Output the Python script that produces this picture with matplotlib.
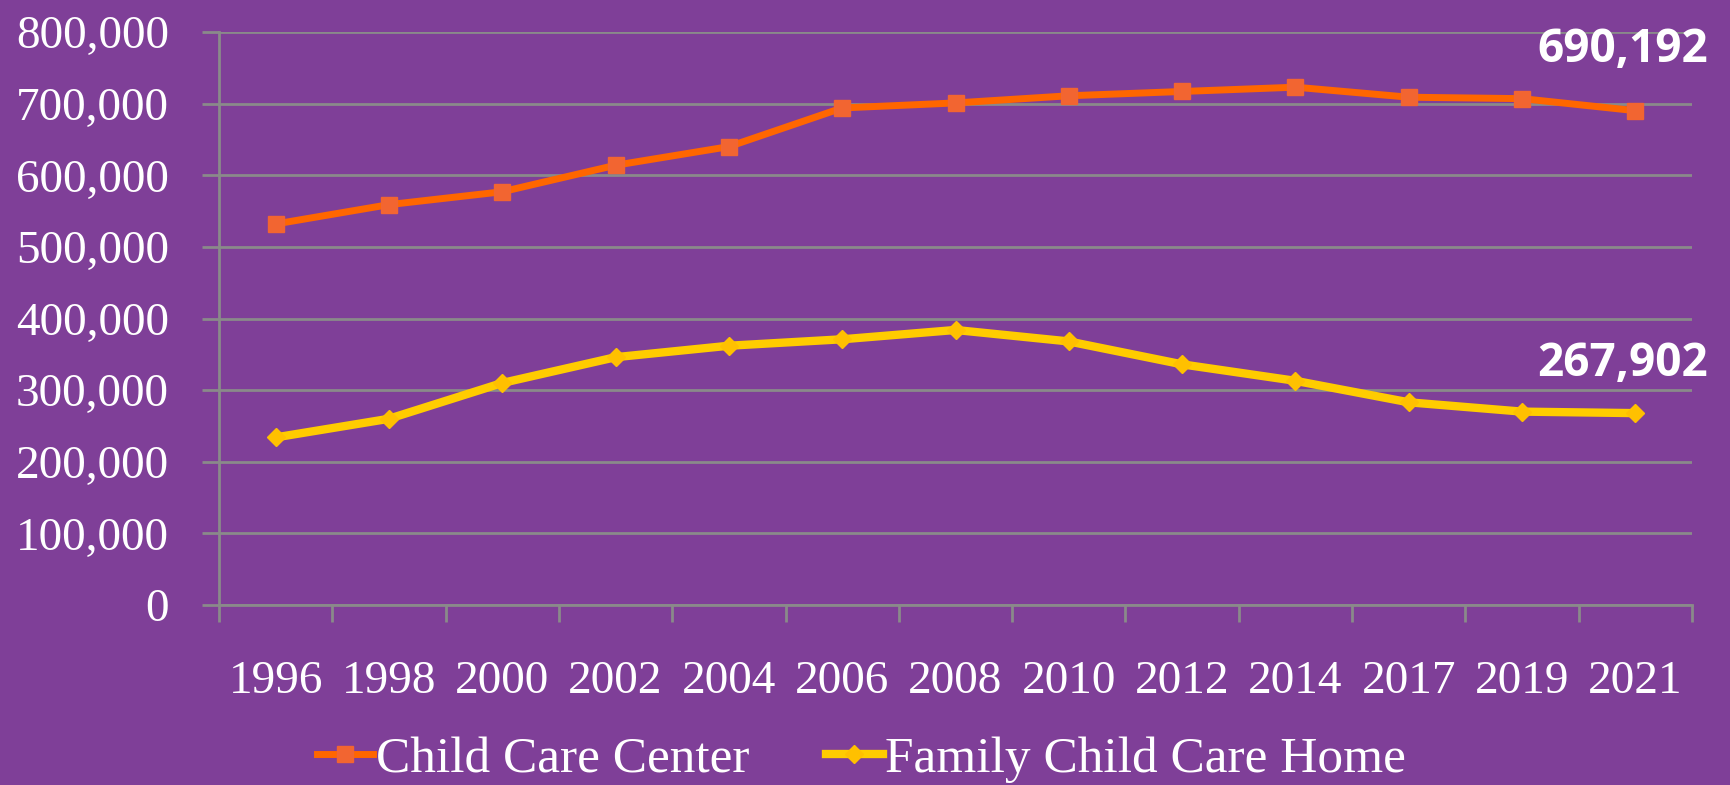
import matplotlib.pyplot as plt
from matplotlib.ticker import FuncFormatter

years = ['1996', '1998', '2000', '2002', '2004', '2006', '2008', '2010',
         '2012', '2014', '2017', '2019', '2021']
center = [532000, 559000, 577000, 614000, 640000, 694000, 701000, 711000,
          717000, 723000, 709000, 707000, 690192]
family_home = [234000, 260000, 310000, 346000, 362000, 371000, 384000, 368000,
               336000, 313000, 283000, 270000, 267902]

bg = '#7F3F98'
grid_col = '#8A8A8A'
serif = ['Liberation Serif', 'DejaVu Serif']

fig = plt.figure(figsize=(17.31, 7.85), dpi=100, facecolor=bg)
ax = fig.add_axes([0.1265, 0.2293, 0.8510, 0.7299])
ax.set_facecolor(bg)

x = list(range(len(years)))
ax.plot(x, center, color='#FF6600', linewidth=5, marker='s', markersize=11,
        markerfacecolor='#F26531', markeredgecolor='#F26531',
        label='Child Care Center', zorder=3)
ax.plot(x, family_home, color='#FFCC00', linewidth=6, marker='D', markersize=9,
        markerfacecolor='#FFC000', markeredgecolor='#FFC000',
        label='Family Child Care Home', zorder=3)

# end-of-line value labels
ax.annotate(f'{center[-1]:,}', (x[-1], center[-1]), xytext=(-9, 44),
            textcoords='offset points', ha='center', va='center',
            color='white', fontsize=33, fontweight='bold', family='Open Sans')
ax.annotate(f'{family_home[-1]:,}', (x[-1], family_home[-1]), xytext=(-9, 36),
            textcoords='offset points', ha='center', va='center',
            color='white', fontsize=33, fontweight='bold', family='Open Sans')

ax.set_xlim(-0.5, len(years) - 0.5)
ax.set_ylim(0, 800000)
ax.set_yticks(range(0, 800001, 100000))
ax.yaxis.set_major_formatter(FuncFormatter(lambda v, p: f'{int(v):,}'))
ax.yaxis.grid(True, color=grid_col, linewidth=2)
ax.set_axisbelow(True)

ax.set_xticks(x)
ax.set_xticklabels(years)
ax.set_xticks([i - 0.5 for i in range(len(years) + 1)], minor=True)
ax.tick_params(axis='x', which='major', length=0, pad=40,
               labelsize=34, labelcolor='white')
ax.tick_params(axis='x', which='minor', length=12, width=2, color=grid_col)
ax.tick_params(axis='y', length=12, width=2, color=grid_col, pad=24,
               labelsize=34, labelcolor='white')
for lbl in ax.get_xticklabels() + ax.get_yticklabels():
    lbl.set_family(serif)

for side in ['top', 'right']:
    ax.spines[side].set_visible(False)
for side in ['left', 'bottom']:
    ax.spines[side].set_color(grid_col)
    ax.spines[side].set_linewidth(2)

fig.legend(loc='center', bbox_to_anchor=(0.4976, 0.032), ncol=2, frameon=False,
           prop={'family': serif, 'size': 37}, labelcolor='white',
           handlelength=1.1, handletextpad=0.05, columnspacing=1.5)

fig.savefig('out.png', dpi=100, facecolor=bg)
